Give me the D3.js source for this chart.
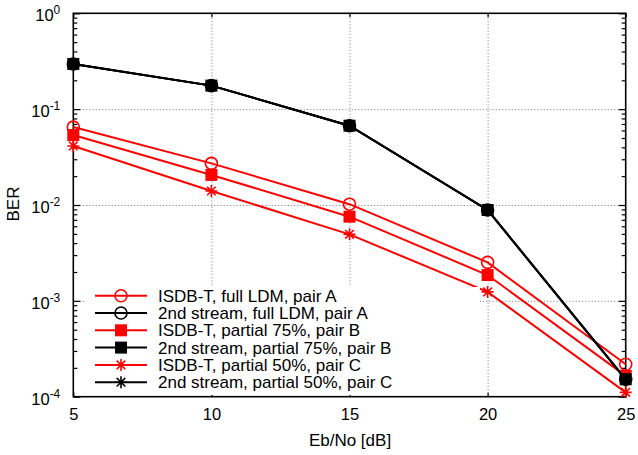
<!DOCTYPE html>
<html>
<head>
<meta charset="utf-8">
<script src="https://cdn.jsdelivr.net/npm/d3@7/dist/d3.min.js"></script>
<style>
  html, body { margin: 0; padding: 0; background: #fff; }
  svg { display: block; font-family: "Liberation Sans", Arial, Helvetica, sans-serif; }
</style>
</head>
<body>
<svg id="chart" width="638" height="455"></svg>
<script>
// Eb/No operating points [dB]
const ebno = [5, 10, 15, 20, 25];

// Bit error rate per configuration
const isdbFullA    = [0.065, 0.0272, 0.0102, 0.00252, 0.000218];
const secondFullA  = [0.296, 0.176, 0.0672, 0.00887, 0.000152];
const isdb75B      = [0.0537, 0.0206, 0.00755, 0.00186, 0.000165];
const second75B    = [0.296, 0.176, 0.0672, 0.00887, 0.000152];
const isdb50C      = [0.0413, 0.0140, 0.00494, 0.00124, 0.000111];
const second50C    = [0.296, 0.176, 0.0672, 0.00887, 0.000152];

const seriesNames = [
  "ISDB-T, full LDM, pair A",
  "2nd stream, full LDM, pair A",
  "ISDB-T, partial 75%, pair B",
  "2nd stream, partial 75%, pair B",
  "ISDB-T, partial 50%, pair C",
  "2nd stream, partial 50%, pair C"
];
const seriesValues = [isdbFullA, secondFullA, isdb75B, second75B, isdb50C, second50C];
const seriesColors = ["#ff0000", "#000000", "#ff0000", "#000000", "#ff0000", "#000000"];
const seriesMarkers = ["circle", "circle", "square", "square", "star", "star"];

// Axis ticks
const xTicks = [5, 10, 15, 20, 25];
const yMajor = [1e-4, 1e-3, 1e-2, 1e-1, 1];
const yExponents = ["-4", "-3", "-2", "-1", "0"];

const svg = d3.select("#chart");
const L = 73.3, R = 625.7, T = 13.3, B = 396.7;

const x = d3.scaleLinear().domain([5, 25]).range([L, R]);
const y = d3.scaleLog().domain([1e-4, 1]).range([B, T]);

const yMinor = [];
for (let e = -4; e < 0; e++) for (let m = 2; m <= 9; m++) yMinor.push(m * Math.pow(10, e));

// Dotted grid
const gridStyle = g => {
  g.select(".domain").remove();
  g.selectAll("line").attr("stroke", "#8a8a8a").attr("stroke-width", 1).attr("stroke-dasharray", "1.2,2");
  g.selectAll("text").remove();
};
svg.append("g").attr("transform", `translate(0,${B})`)
  .call(d3.axisBottom(x).tickValues([10, 15, 20]).tickSize(-(B - T)).tickFormat(""))
  .call(gridStyle);
svg.append("g").attr("transform", `translate(${L},0)`)
  .call(d3.axisLeft(y).tickValues([1e-3, 1e-2, 1e-1]).tickSize(-(R - L)).tickFormat(""))
  .call(gridStyle);

// Tick marks on all four sides
const tickStyle = g => {
  g.select(".domain").remove();
  g.selectAll("line").attr("stroke", "#000").attr("stroke-width", 1.2);
};
svg.append("g").attr("transform", `translate(${L},0)`)
  .call(d3.axisLeft(y).tickValues(yMinor).tickSize(-4).tickFormat("")).call(tickStyle);
svg.append("g").attr("transform", `translate(${R},0)`)
  .call(d3.axisRight(y).tickValues(yMinor).tickSize(-4).tickFormat("")).call(tickStyle);
svg.append("g").attr("transform", `translate(${R},0)`)
  .call(d3.axisRight(y).tickValues(yMajor).tickSize(-7).tickFormat("")).call(tickStyle);
svg.append("g").attr("transform", `translate(0,${T})`)
  .call(d3.axisTop(x).tickValues(xTicks).tickSize(-4).tickFormat("")).call(tickStyle);

// Left axis with power-of-ten labels
const yAxis = svg.append("g").attr("transform", `translate(${L},0)`)
  .call(d3.axisLeft(y).tickValues(yMajor).tickSize(-7).tickPadding(0).tickFormat(""))
  .call(tickStyle);
yAxis.selectAll(".tick").each(function(d, i) {
  const t = d3.select(this).select("text")
    .attr("x", -13).attr("dy", null).attr("y", 7.5)
    .attr("fill", "#000").attr("font-size", 16.5)
    .attr("font-family", "Liberation Sans, Arial, sans-serif")
    .attr("text-anchor", "end");
  t.append("tspan").text("10");
  t.append("tspan").attr("dy", -7).attr("font-size", 12).text(yExponents[i]);
});

// Bottom axis
const xAxis = svg.append("g").attr("transform", `translate(0,${B})`)
  .call(d3.axisBottom(x).tickValues(xTicks).tickSize(-4).tickPadding(11.5))
  .call(tickStyle);
xAxis.selectAll("text").attr("fill", "#000").attr("font-size", 16.5)
  .attr("font-family", "Liberation Sans, Arial, sans-serif");

// Frame
svg.append("rect").attr("x", L).attr("y", T).attr("width", R - L).attr("height", B - T)
  .attr("fill", "none").attr("stroke", "#000").attr("stroke-width", 1.6);

// Axis titles
svg.append("text").attr("x", 350).attr("y", 446).attr("text-anchor", "middle")
  .attr("font-size", 17).text("Eb/No [dB]");
svg.append("text").attr("transform", "translate(19,204) rotate(-90)").attr("text-anchor", "middle")
  .attr("font-size", 17).text("BER");

// Marker drawing
function drawMarker(g, type, cx, cy, color) {
  if (type === "circle") {
    g.append("circle").attr("cx", cx).attr("cy", cy).attr("r", 6)
      .attr("fill", "none").attr("stroke", color).attr("stroke-width", 1.6);
  } else if (type === "square") {
    g.append("rect").attr("x", cx - 6).attr("y", cy - 6).attr("width", 12).attr("height", 12)
      .attr("fill", color);
  } else {
    const s = 6, d = 4.3;
    const p = `M${cx - s},${cy}L${cx + s},${cy}M${cx},${cy - s}L${cx},${cy + s}` +
              `M${cx - d},${cy - d}L${cx + d},${cy + d}M${cx - d},${cy + d}L${cx + d},${cy - d}`;
    g.append("path").attr("d", p).attr("stroke", color).attr("stroke-width", 1.6).attr("fill", "none");
  }
}

// Series
const line = d3.line().x(d => x(d[0])).y(d => y(d[1]));
seriesValues.forEach((vals, i) => {
  const pts = ebno.map((e, j) => [e, vals[j]]);
  const g = svg.append("g");
  g.append("path").attr("d", line(pts)).attr("fill", "none")
    .attr("stroke", seriesColors[i]).attr("stroke-width", 2);
  pts.forEach(p => drawMarker(g, seriesMarkers[i], x(p[0]), y(p[1]), seriesColors[i]));
});

// Legend
const leg = svg.append("g");
leg.append("rect").attr("x", 84).attr("y", 287).attr("width", 396).attr("height", 108).attr("fill", "#fff");
seriesNames.forEach((name, i) => {
  const ly = 295.7 + i * 17.3;
  leg.append("line").attr("x1", 95).attr("x2", 147).attr("y1", ly).attr("y2", ly)
    .attr("stroke", seriesColors[i]).attr("stroke-width", 2);
  drawMarker(leg, seriesMarkers[i], 121, ly, seriesColors[i]);
  leg.append("text").attr("x", 158).attr("y", ly).attr("dy", "0.35em")
    .attr("font-size", 17).text(name);
});
</script>
</body>
</html>
